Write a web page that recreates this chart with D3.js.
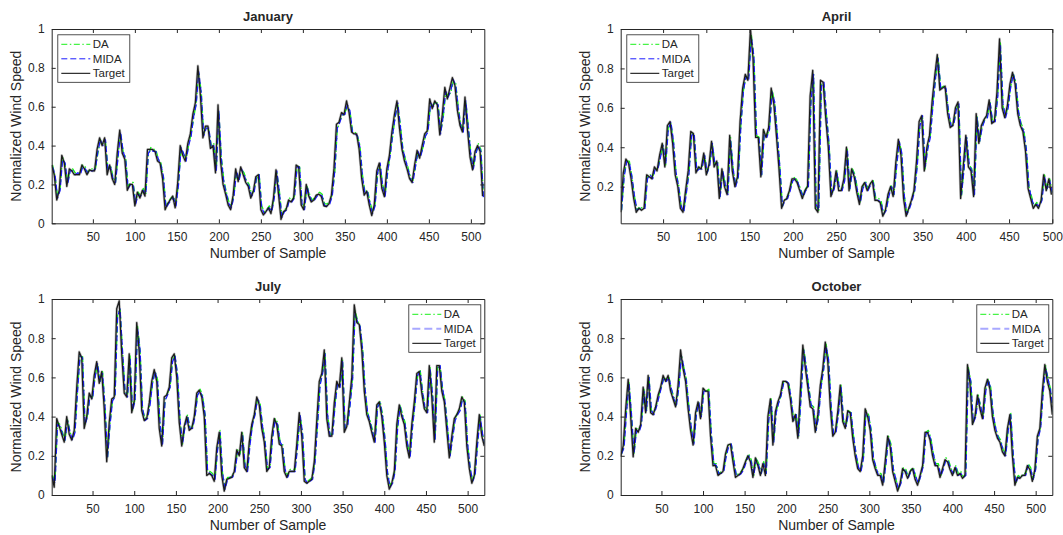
<!DOCTYPE html>
<html>
<head>
<meta charset="utf-8">
<script src="https://cdn.jsdelivr.net/npm/d3@7"></script>
<style>
  body { margin: 0; background: #fff; }
  svg { display: block; }
  text { font-family: "Liberation Sans", Arial, Helvetica, sans-serif; fill: #262626; }
</style>
</head>
<body>
<svg id="chart" width="1063" height="535"></svg>
<script>
// ---- Tick labels and series names ----
const sampleTicks = [50, 100, 150, 200, 250, 300, 350, 400, 450, 500];
const speedTicks = [0, 0.2, 0.4, 0.6, 0.8, 1];
const seriesNames = ["DA", "MIDA", "Target"];

// Series are stored every 3rd sample; Target starts at sample 1, forecasts at sample 2.
const sampleStep = 3;
const targetStart = 1;
const forecastStart = 2;

// ---- January ----
const janTarget = [.30,.25,.12,.17,.35,.31,.19,.28,.27,.25, .25,.25,.30,.28,.25,.275,.27,.27,.38,.44,
  .40,.44,.25,.30,.23,.20,.36,.48,.36,.33, .17,.20,.20,.09,.16,.13,.17,.14,.38,.38,
  .38,.37,.32,.31,.23,.07,.10,.12,.14,.08, .21,.40,.35,.32,.41,.46,.56,.62,.81,.66,
  .44,.50,.50,.385,.40,.26,.61,.32,.20,.15, .095,.07,.145,.28,.215,.29,.25,.21,.19,.13,
  .165,.24,.25,.07,.043,.06,.08,.05,.13,.275, .15,.02,.06,.07,.12,.11,.13,.30,.29,.095,
  .07,.20,.14,.11,.12,.145,.15,.137,.09,.086, .10,.145,.28,.51,.52,.57,.56,.63,.57,.47,
  .46,.46,.38,.23,.145,.165,.095,.04,.095,.27, .31,.18,.137,.28,.35,.47,.56,.63,.49,.38,
  .32,.28,.23,.21,.30,.375,.335,.40,.46,.475, .64,.59,.63,.61,.455,.56,.70,.64,.695,.75,
  .71,.58,.505,.47,.65,.48,.34,.275,.37,.40, .37,.14];
const janMIDA = [.29,.25,.13,.17,.33,.31,.20,.27,.27,.25, .26,.25,.29,.28,.26,.27,.27,.28,.37,.43,
  .40,.43,.27,.29,.23,.21,.34,.47,.37,.33, .18,.20,.20,.10,.15,.14,.17,.15,.36,.38,
  .37,.37,.33,.30,.24,.08,.10,.12,.13,.09, .20,.39,.36,.32,.40,.45,.55,.61,.78,.67,
  .45,.49,.49,.39,.40,.27,.58,.33,.21,.15, .10,.08,.14,.27,.22,.28,.25,.21,.19,.14,
  .16,.24,.25,.08,.05,.06,.08,.06,.13,.27, .16,.03,.06,.07,.12,.11,.13,.29,.29,.10,
  .07,.19,.14,.11,.12,.14,.15,.14,.09,.09, .10,.14,.27,.49,.52,.56,.56,.61,.58,.47,
  .46,.45,.39,.24,.15,.16,.10,.05,.09,.26, .31,.19,.14,.27,.35,.46,.55,.62,.50,.38,
  .33,.28,.23,.21,.29,.37,.34,.39,.45,.47, .62,.60,.62,.61,.46,.55,.68,.65,.68,.74,
  .71,.59,.50,.47,.63,.49,.35,.28,.36,.40, .37,.13];
const janDA = [.30,.24,.14,.18,.34,.30,.21,.28,.28,.26, .26,.26,.30,.29,.26,.28,.28,.28,.36,.43,
  .41,.42,.28,.30,.24,.21,.35,.46,.37,.34, .19,.21,.21,.11,.16,.14,.18,.15,.35,.39,
  .38,.38,.33,.31,.24,.09,.11,.13,.14,.10, .21,.38,.36,.33,.40,.46,.54,.62,.77,.68,
  .46,.50,.48,.40,.41,.28,.57,.34,.22,.16, .11,.09,.15,.26,.23,.28,.26,.22,.20,.15,
  .17,.23,.25,.09,.06,.07,.09,.07,.14,.26, .17,.04,.07,.08,.13,.12,.14,.28,.30,.11,
  .08,.19,.15,.12,.13,.15,.16,.15,.10,.10, .11,.15,.26,.48,.53,.55,.57,.60,.58,.48,
  .47,.45,.40,.25,.16,.17,.11,.06,.10,.25, .30,.20,.15,.26,.36,.45,.55,.61,.51,.39,
  .33,.29,.24,.22,.29,.36,.35,.39,.45,.48, .61,.61,.62,.62,.47,.54,.67,.66,.67,.73,
  .72,.60,.51,.48,.62,.50,.36,.29,.36,.41, .38,.14];

// ---- April ----
const aprTarget = [.07,.27,.34,.32,.24,.14,.07,.09,.08,.09, .26,.25,.24,.30,.28,.36,.42,.30,.51,.53,
  .42,.26,.20,.09,.07,.18,.28,.48,.47,.27, .30,.29,.37,.26,.31,.43,.30,.33,.14,.29,
  .20,.16,.46,.28,.20,.25,.53,.70,.77,.74, 1.0,.85,.45,.45,.25,.49,.45,.50,.70,.62,
  .46,.29,.09,.13,.14,.18,.24,.24,.22,.18, .14,.18,.20,.66,.79,.09,.07,.74,.73,.55,
  .40,.15,.19,.28,.18,.18,.24,.40,.18,.29, .25,.17,.11,.20,.22,.18,.21,.23,.13,.13,
  .12,.05,.08,.16,.20,.15,.32,.44,.36,.14, .05,.09,.13,.18,.33,.53,.56,.28,.40,.46,
  .63,.76,.87,.69,.70,.71,.57,.50,.51,.60, .63,.14,.30,.46,.30,.28,.15,.57,.42,.51,
  .54,.56,.64,.52,.53,.68,.95,.60,.55,.61, .72,.78,.72,.57,.51,.48,.38,.19,.14,.09,
  .11,.09,.13,.26,.18,.24,.16];
const aprMIDA = [.08,.25,.33,.32,.25,.15,.08,.09,.09,.09, .24,.26,.24,.29,.29,.35,.41,.31,.49,.53,
  .43,.27,.20,.10,.07,.17,.27,.46,.47,.28, .29,.29,.36,.27,.31,.42,.31,.32,.15,.28,
  .21,.16,.44,.29,.20,.25,.51,.69,.76,.74, .96,.86,.47,.44,.26,.47,.45,.49,.68,.63,
  .47,.30,.10,.13,.14,.18,.23,.24,.22,.18, .15,.18,.20,.63,.77,.11,.08,.71,.73,.56,
  .41,.16,.19,.27,.19,.18,.23,.39,.19,.28, .25,.17,.12,.19,.22,.18,.21,.22,.13,.13,
  .12,.06,.08,.15,.20,.16,.30,.43,.37,.15, .06,.09,.13,.18,.31,.51,.56,.30,.39,.45,
  .61,.75,.85,.70,.70,.70,.58,.51,.51,.59, .62,.16,.29,.45,.31,.28,.16,.55,.43,.50,
  .54,.55,.63,.53,.53,.66,.92,.62,.55,.60, .71,.77,.72,.58,.51,.48,.39,.20,.14,.10,
  .11,.10,.13,.25,.19,.23,.17];
const aprDA = [.08,.26,.33,.33,.25,.15,.08,.10,.09,.10, .25,.26,.25,.29,.29,.35,.41,.31,.50,.52,
  .43,.27,.21,.10,.08,.18,.27,.47,.46,.28, .30,.30,.36,.27,.32,.42,.31,.33,.15,.28,
  .21,.17,.45,.29,.21,.25,.52,.69,.76,.75, .97,.86,.46,.45,.26,.48,.46,.49,.69,.63,
  .47,.30,.10,.14,.15,.19,.24,.25,.22,.19, .15,.19,.21,.64,.77,.10,.08,.72,.72,.56,
  .41,.16,.20,.28,.19,.19,.24,.39,.19,.29, .26,.18,.12,.20,.23,.19,.22,.23,.14,.14,
  .13,.06,.09,.16,.21,.16,.31,.43,.37,.15, .06,.10,.14,.19,.32,.52,.55,.29,.40,.46,
  .62,.75,.86,.70,.71,.70,.58,.51,.52,.59, .62,.15,.30,.45,.31,.29,.16,.56,.43,.51,
  .54,.56,.63,.53,.54,.67,.93,.61,.56,.61, .71,.77,.73,.58,.52,.49,.39,.20,.15,.10,
  .12,.10,.14,.26,.19,.24,.17];

// ---- July ----
const julTarget = [.10,.04,.39,.35,.31,.27,.40,.31,.28,.33, .55,.73,.70,.34,.40,.52,.49,.61,.68,.57,
  .63,.44,.17,.37,.49,.50,.95,.99,.72,.52, .50,.72,.42,.48,.88,.73,.43,.38,.39,.47,
  .58,.64,.58,.34,.25,.50,.51,.55,.70,.72, .60,.37,.25,.35,.40,.33,.34,.40,.52,.535,
  .50,.40,.10,.11,.10,.07,.24,.32,.10,.02, .08,.085,.09,.12,.23,.20,.32,.14,.12,.27,
  .36,.41,.50,.46,.34,.27,.12,.14,.30,.39, .36,.26,.25,.12,.09,.12,.12,.12,.26,.42,
  .30,.07,.06,.07,.08,.17,.38,.58,.62,.74, .39,.30,.30,.47,.58,.55,.70,.32,.35,.47,
  .60,.97,.88,.87,.74,.53,.41,.375,.32,.27, .46,.475,.40,.27,.10,.03,.06,.12,.36,.46,
  .40,.36,.25,.19,.36,.475,.62,.63,.52,.44, .42,.66,.50,.27,.66,.66,.53,.475,.33,.19,
  .30,.39,.41,.44,.50,.475,.25,.135,.06,.10, .27,.41,.30,.25];
const julMIDA = [.09,.06,.36,.35,.31,.28,.38,.32,.28,.32, .53,.71,.70,.36,.40,.51,.49,.60,.67,.58,
  .62,.45,.19,.36,.48,.50,.91,.95,.73,.53, .50,.70,.43,.48,.85,.74,.44,.38,.39,.46,
  .57,.63,.58,.36,.26,.48,.51,.55,.68,.71, .61,.38,.26,.35,.40,.34,.34,.40,.51,.53,
  .50,.41,.12,.11,.10,.08,.23,.32,.11,.03, .08,.09,.09,.12,.22,.21,.31,.15,.12,.26,
  .36,.41,.49,.46,.35,.27,.13,.14,.29,.38, .36,.27,.25,.13,.09,.12,.12,.12,.25,.41,
  .31,.08,.06,.07,.08,.17,.36,.56,.62,.72, .41,.30,.30,.46,.57,.55,.68,.34,.35,.46,
  .59,.93,.88,.86,.74,.54,.42,.37,.32,.27, .45,.47,.40,.28,.11,.04,.06,.12,.34,.45,
  .40,.36,.26,.19,.35,.47,.61,.63,.52,.44, .42,.64,.51,.28,.64,.66,.54,.47,.34,.20,
  .29,.38,.41,.43,.49,.47,.26,.14,.07,.10, .26,.40,.31,.25];
const julDA = [.10,.07,.37,.36,.32,.28,.39,.32,.29,.33, .54,.71,.71,.36,.41,.51,.50,.60,.67,.58,
  .63,.45,.19,.37,.48,.51,.92,.95,.73,.53, .51,.71,.43,.49,.86,.74,.44,.39,.40,.47,
  .57,.63,.59,.36,.27,.49,.52,.55,.69,.71, .61,.38,.26,.36,.41,.34,.35,.41,.51,.54,
  .51,.41,.12,.12,.11,.08,.24,.33,.11,.04, .09,.09,.10,.13,.23,.21,.32,.15,.13,.27,
  .36,.42,.49,.47,.35,.28,.13,.15,.30,.39, .37,.27,.26,.13,.10,.13,.13,.13,.26,.41,
  .31,.08,.07,.08,.09,.18,.37,.57,.62,.73, .41,.31,.31,.47,.57,.56,.69,.34,.36,.47,
  .60,.94,.89,.86,.75,.54,.42,.38,.33,.28, .45,.48,.41,.28,.11,.05,.07,.13,.35,.46,
  .41,.37,.26,.20,.36,.48,.61,.64,.53,.45, .43,.65,.51,.28,.65,.66,.54,.48,.34,.20,
  .30,.39,.42,.44,.50,.48,.26,.14,.07,.11, .27,.41,.31,.26];

// ---- October ----
const octTarget = [.20,.25,.44,.59,.40,.195,.34,.32,.36,.55, .42,.61,.42,.41,.45,.51,.55,.61,.58,.61,
  .53,.49,.45,.56,.74,.645,.58,.44,.33,.255, .42,.475,.39,.545,.53,.53,.30,.15,.15,.10,
  .11,.12,.21,.255,.26,.17,.09,.10,.11,.135, .17,.20,.17,.09,.19,.15,.10,.16,.10,.40,
  .49,.255,.425,.475,.51,.58,.58,.57,.49,.375, .41,.29,.53,.765,.65,.55,.45,.44,.32,.41,
  .56,.645,.78,.68,.45,.30,.32,.425,.56,.375, .34,.43,.42,.29,.20,.135,.12,.20,.44,.40,
  .33,.18,.135,.10,.10,.05,.17,.30,.25,.12, .07,.02,.06,.135,.12,.085,.12,.135,.08,.05,
  .10,.15,.32,.32,.28,.20,.15,.15,.09,.135, .18,.17,.13,.10,.14,.10,.11,.085,.10,.665,
  .57,.36,.40,.51,.44,.39,.545,.59,.54,.40, .33,.29,.27,.22,.20,.34,.41,.20,.05,.09,
  .085,.10,.10,.15,.13,.07,.13,.30,.34,.53, .665,.58,.53,.41];
const octMIDA = [.21,.24,.42,.57,.41,.21,.33,.32,.36,.53, .43,.60,.43,.41,.45,.50,.55,.60,.58,.60,
  .54,.49,.46,.55,.71,.65,.58,.45,.34,.26, .41,.47,.40,.53,.53,.53,.31,.16,.15,.11,
  .11,.12,.20,.25,.26,.18,.10,.10,.11,.13, .17,.20,.17,.10,.18,.15,.11,.16,.11,.38,
  .48,.27,.42,.47,.51,.57,.58,.57,.49,.38, .41,.30,.51,.74,.66,.55,.46,.44,.33,.40,
  .55,.64,.76,.69,.46,.31,.32,.42,.55,.38, .35,.42,.42,.30,.21,.14,.12,.19,.42,.41,
  .33,.19,.14,.10,.10,.06,.16,.29,.25,.13, .08,.03,.06,.13,.12,.09,.12,.13,.09,.06,
  .10,.15,.31,.32,.28,.21,.15,.15,.10,.13, .18,.17,.13,.11,.14,.10,.11,.09,.10,.64,
  .58,.37,.40,.50,.45,.39,.53,.59,.54,.41, .34,.29,.27,.23,.20,.33,.41,.21,.06,.09,
  .09,.10,.10,.15,.13,.08,.13,.29,.34,.52, .65,.59,.53,.42];
const octDA = [.21,.25,.43,.58,.41,.21,.34,.33,.37,.54, .43,.60,.43,.42,.46,.51,.55,.60,.59,.60,
  .54,.50,.46,.56,.71,.65,.59,.45,.34,.27, .42,.47,.40,.54,.53,.54,.31,.16,.16,.11,
  .12,.13,.21,.26,.26,.18,.10,.11,.12,.14, .18,.21,.18,.10,.19,.16,.11,.17,.11,.39,
  .49,.27,.43,.47,.51,.58,.58,.57,.50,.38, .42,.30,.52,.75,.66,.56,.46,.45,.33,.41,
  .56,.64,.77,.69,.46,.31,.33,.43,.56,.38, .35,.43,.42,.30,.21,.14,.13,.20,.43,.41,
  .34,.19,.14,.11,.11,.06,.17,.30,.26,.13, .08,.03,.07,.14,.13,.09,.13,.14,.09,.06,
  .11,.16,.32,.33,.29,.21,.16,.16,.10,.14, .19,.18,.14,.11,.15,.11,.12,.09,.11,.65,
  .58,.37,.41,.51,.45,.40,.54,.59,.55,.41, .34,.30,.28,.23,.21,.34,.42,.21,.06,.10,
  .09,.11,.11,.16,.14,.08,.14,.30,.35,.53, .66,.59,.54,.42];

// ---- Panel layout ----
const panels = [
  { title: "January", target: janTarget, mida: janMIDA, da: janDA,
    xDomain: [1, 516], yDomain: [0, 1],
    box: { left: 51.7, top: 29, width: 432.6, height: 194.3 }, legendSide: "left", legendMIDA: "dark" },
  { title: "April", target: aprTarget, mida: aprMIDA, da: aprDA,
    xDomain: [1, 500], yDomain: [0.014, 1],
    box: { left: 620.7, top: 29, width: 431.6, height: 194.3 }, legendSide: "left", legendMIDA: "dark" },
  { title: "July", target: julTarget, mida: julMIDA, da: julDA,
    xDomain: [1, 520], yDomain: [0, 1],
    box: { left: 51.7, top: 299, width: 432.6, height: 196 }, legendSide: "right", legendMIDA: "light" },
  { title: "October", target: octTarget, mida: octMIDA, da: octDA,
    xDomain: [1, 520], yDomain: [0, 1],
    box: { left: 620.7, top: 299, width: 431.6, height: 196 }, legendSide: "right", legendMIDA: "light" }
];

const axisColor = "#262626";
const styles = {
  DA: { stroke: "#19f019", dash: "6,2.5,1.5,2.5", width: 1.3 },
  MIDA: { stroke: "#1a1aff", dash: "6,3", width: 1.3 },
  Target: { stroke: "#1c1c1c", dash: null, width: 1.25 }
};

const svg = d3.select("#chart");

panels.forEach((p, pi) => {
  const b = p.box;
  const x = d3.scaleLinear().domain(p.xDomain).range([b.left, b.left + b.width]);
  const y = d3.scaleLinear().domain(p.yDomain).range([b.top + b.height, b.top]);
  const g = svg.append("g");

  const clipId = "clip" + pi;
  svg.append("clipPath").attr("id", clipId)
    .append("rect").attr("x", b.left).attr("y", b.top).attr("width", b.width).attr("height", b.height);

  // white plotting area
  g.append("rect").attr("x", b.left).attr("y", b.top).attr("width", b.width).attr("height", b.height)
    .attr("fill", "#fff");

  const lineFrom = start => d3.line()
    .x((d, i) => x(start + sampleStep * i))
    .y(d => y(d));

  const lines = g.append("g").attr("clip-path", `url(#${clipId})`);
  const series = [
    { name: "DA", values: p.da, start: forecastStart },
    { name: "MIDA", values: p.mida, start: forecastStart },
    { name: "Target", values: p.target, start: targetStart }
  ];
  // soft grey band under the overlapping curves
  lines.append("path")
    .datum(p.target)
    .attr("d", lineFrom(targetStart))
    .attr("fill", "none")
    .attr("stroke", "#8c8c8c")
    .attr("stroke-opacity", 0.55)
    .attr("stroke-width", 2.6)
    .attr("stroke-linejoin", "round");
  series.forEach(s => {
    const st = styles[s.name];
    lines.append("path")
      .datum(s.values)
      .attr("d", lineFrom(s.start))
      .attr("fill", "none")
      .attr("stroke", st.stroke)
      .attr("stroke-width", st.width)
      .attr("stroke-dasharray", st.dash)
      .attr("stroke-linejoin", "round");
  });

  // axes: box with inward ticks on all four sides
  const yTicks = speedTicks.filter(t => t >= p.yDomain[0] - 1e-9 && t <= p.yDomain[1] + 1e-9);
  const fmt = d => String(+d.toFixed(1));
  const styleAxis = sel => {
    sel.selectAll("path.domain").attr("stroke", axisColor).attr("stroke-width", 1);
    sel.selectAll(".tick line").attr("stroke", axisColor).attr("stroke-width", 1);
    sel.selectAll(".tick text").attr("fill", "#333").style("font-size", "12px")
      .style("font-family", '"Liberation Sans", Arial, sans-serif');
  };

  g.append("g").attr("transform", `translate(0,${b.top + b.height})`)
    .call(d3.axisBottom(x).tickValues(sampleTicks).tickSizeInner(-4).tickSizeOuter(0).tickPadding(9))
    .call(styleAxis);
  g.append("g").attr("transform", `translate(0,${b.top})`)
    .call(d3.axisTop(x).tickValues(sampleTicks).tickSizeInner(-4).tickSizeOuter(0).tickFormat(""))
    .call(styleAxis);
  g.append("g").attr("transform", `translate(${b.left},0)`)
    .call(d3.axisLeft(y).tickValues(yTicks).tickFormat(fmt).tickSizeInner(-4).tickSizeOuter(0).tickPadding(7))
    .call(styleAxis);
  g.append("g").attr("transform", `translate(${b.left + b.width},0)`)
    .call(d3.axisRight(y).tickValues(yTicks).tickSizeInner(-4).tickSizeOuter(0).tickFormat(""))
    .call(styleAxis);

  // title and axis labels
  const cx = b.left + b.width / 2;
  g.append("text").attr("x", cx).attr("y", b.top - 8.5).attr("text-anchor", "middle")
    .style("font-size", "13px").style("font-weight", "bold").attr("fill", "#000").text(p.title);
  g.append("text").attr("x", cx).attr("y", b.top + b.height + 34.5).attr("text-anchor", "middle")
    .style("font-size", "14px").text("Number of Sample");
  g.append("text")
    .attr("transform", `translate(${b.left - 31},${b.top + b.height / 2}) rotate(-90)`)
    .attr("text-anchor", "middle").style("font-size", "14px").text("Normalized Wind Speed");

  // legend
  const lw = 72, lh = 47.5;
  const lx = p.legendSide === "left" ? b.left + 5.6 : b.left + b.width - 4 - lw;
  const ly = b.top + 5.3;
  const lg = g.append("g").attr("transform", `translate(${lx},${ly})`);
  lg.append("rect").attr("x", 0.5).attr("y", 0.5).attr("width", lw).attr("height", lh)
    .attr("fill", "#fff").attr("stroke", axisColor).attr("stroke-width", 0.8);
  seriesNames.forEach((name, i) => {
    const yy = 10 + i * 14.5;
    const st = styles[name];
    let stroke = st.stroke, width = 1, dash = st.dash;
    if (name === "MIDA" && p.legendMIDA === "light") { stroke = "#a8a8ff"; width = 2; dash = "8,4"; }
    lg.append("line").attr("x1", 4).attr("x2", 33).attr("y1", yy).attr("y2", yy)
      .attr("stroke", name === "Target" ? "#000" : stroke).attr("stroke-width", width)
      .attr("stroke-dasharray", dash);
    lg.append("text").attr("x", 35.5).attr("y", yy + 4).style("font-size", "11.5px")
      .attr("fill", "#000").text(name);
  });
});
</script>
</body>
</html>
